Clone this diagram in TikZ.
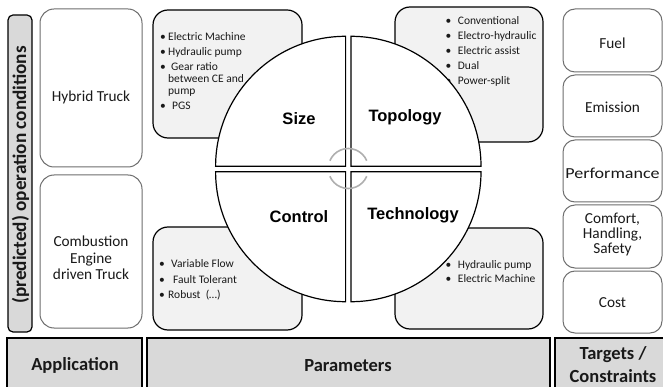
\documentclass[tikz,border=0pt]{standalone}
\usepackage{fontspec}
\setmainfont{Carlito}
\newfontfamily\arialfont{Liberation Sans}
\definecolor{hdrfill}{RGB}{217,217,217}
\definecolor{listfill}{RGB}{242,242,242}
\definecolor{softline}{RGB}{110,110,110}
\definecolor{arcgray}{RGB}{175,175,175}
\definecolor{txt}{RGB}{25,25,25}
\newcommand\bul[1]{\makebox[#1][l]{•}}
\begin{document}
\begin{tikzpicture}[x=1pt,y=-1pt,
  hdr/.style={draw=black, line width=1.6pt, fill=hdrfill},
  softbox/.style={draw=softline, line width=1pt, rounded corners=14pt, fill=white},
  tagbox/.style={draw=black, line width=1.2pt, rounded corners=5pt, fill=hdrfill},
  listbox/.style={draw=black, line width=1.2pt, rounded corners=15pt, fill=listfill},
  quad/.style={draw=black, line width=1.2pt, fill=white},
  arcg/.style={draw=arcgray, line width=1.6pt},
  bodytext/.style={font=\fontsize{15.3}{16.5}\selectfont, align=center, text=txt, inner sep=0pt},
  listtext/.style={font=\fontsize{11.5}{14.8}\selectfont, align=left, anchor=north west, inner sep=0pt, text=txt},
  quadlabel/.style={font=\arialfont\bfseries\fontsize{16.5}{20}\selectfont, inner sep=0pt},
  hdrlabel/.style={font=\bfseries\fontsize{18.5}{23}\selectfont, align=center, inner sep=0pt, text=txt}
]
\useasboundingbox (0,0) rectangle (663,387);
\fill[white] (0,0) rectangle (663,387);

% left column
\draw[tagbox] (8,15) rectangle (32,332);
\node[rotate=90, font=\bfseries\fontsize{19.2}{23}\selectfont, inner sep=0pt, text=txt] (opcond) at (20.5,175) {(predicted) operation conditions};
\draw[softbox] (40,9) rectangle (142,167);
\node[bodytext] (hybrid) at (91,97) {Hybrid Truck};
\draw[softbox] (40,175) rectangle (142,328);
\node[bodytext] (combustion) at (91,258) {Combustion\\Engine\\driven Truck};

% list boxes
\draw[listbox] (153,10) rectangle (302,138);
\draw[listbox] (395,7) rectangle (543,142);
\draw[listbox] (153,227) rectangle (302,330);
\draw[listbox] (395,228) rectangle (543,329);

\node[listtext] (sizelist) at (159.8,32.5) {\bul{8.2pt}Electric Machine\\
\bul{8.2pt}Hydraulic pump\\
\bul{8.2pt}\hspace{3pt}Gear ratio\\[-2.5pt]
\hspace*{8.2pt}between CE and\\[-2.5pt]
\hspace*{8.2pt}pump\\
\bul{8.2pt}\hspace{4pt}PGS};
\node[listtext] (topolist) at (445.4,16.8) {\bul{12.3pt}Conventional\\
\bul{12.3pt}Electro-hydraulic\\
\bul{12.3pt}Electric assist\\
\bul{12.3pt}Dual\\
\bul{12.3pt}Power-split};
\node[listtext, font=\fontsize{11.5}{15.5}\selectfont] (ctrllist) at (158.8,259.8) {\bul{9.2pt}\hspace{3pt}Variable Flow\\
\bul{9.2pt}\hspace{5pt}Fault Tolerant\\
\bul{9.2pt}Robust\ \ (…)};
\node[listtext, font=\fontsize{11.5}{14}\selectfont] (techlist) at (445.4,260.8) {\bul{12.3pt}Hydraulic pump\\
\bul{12.3pt}Electric Machine};

% circle quadrants
\draw[quad] (345.6,166.3) -- ++(-130,0) arc[start angle=180,end angle=270,radius=130] -- cycle;
\draw[quad] (351,166.3) -- ++(0,-130) arc[start angle=270,end angle=360,radius=130] -- cycle;
\draw[quad] (351,171.7) -- ++(130,0) arc[start angle=0,end angle=90,radius=130] -- cycle;
\draw[quad] (345.6,171.7) -- ++(0,130) arc[start angle=90,end angle=180,radius=130] -- cycle;
\coordinate (ctr) at (348.3,168.5);
\draw[arcg] (ctr) ++(203:20) arc[start angle=203,end angle=337,radius=20];
\draw[arcg] (ctr) ++(23:20) arc[start angle=23,end angle=157,radius=20];

\node[quadlabel] (size) at (299,119) {Size};
\node[quadlabel] (topology) at (405,117) {Topology};
\node[quadlabel] (control) at (299,217) {Control};
\node[quadlabel] (technology) at (413,215) {Technology};

% right column
\draw[softbox, rounded corners=12pt] (563,9) rectangle (662,72);
\draw[softbox, rounded corners=12pt] (563,75) rectangle (662,137);
\draw[softbox, rounded corners=12pt] (563,140) rectangle (662,202);
\draw[softbox, rounded corners=12pt] (563,205) rectangle (662,268);
\draw[softbox, rounded corners=12pt] (563,271) rectangle (662,333);
\node[bodytext] (fuel) at (612.5,43) {Fuel};
\node[bodytext] (emission) at (612.5,107) {Emission};
\node[bodytext] (performance) at (612.5,173) {\scalebox{1.18}[1]{Performance}};
\node[bodytext, font=\fontsize{15.3}{15}\selectfont] (comfort) at (612.5,234) {Comfort,\\Handling,\\Safety};
\node[bodytext] (cost) at (612.5,303) {Cost};

% bottom headers
\draw[hdr] (7,338) rectangle (142,392);
\draw[hdr] (147,338) rectangle (550,392);
\draw[hdr] (555,338) rectangle (667,392);
\node[hdrlabel] (application) at (75,365) {Application};
\node[hdrlabel] (parameters) at (348,366) {Parameters};
\node[hdrlabel] (targets) at (613,364.5) {Targets /\\Constraints};
\end{tikzpicture}
\end{document}
